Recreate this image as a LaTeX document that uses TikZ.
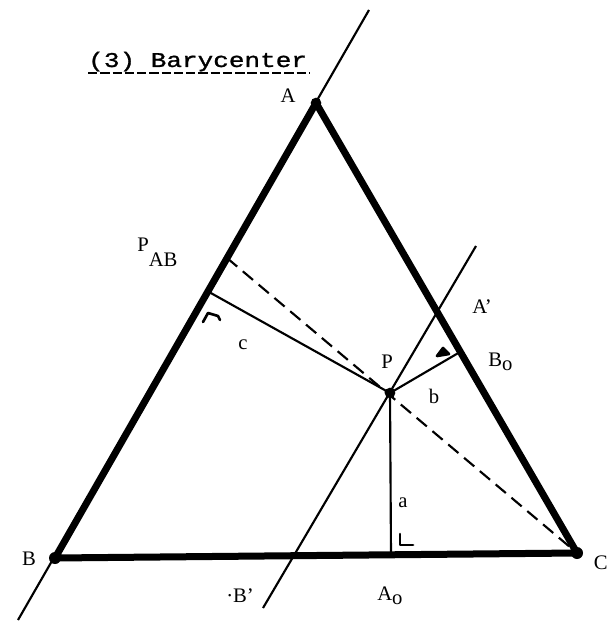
\documentclass[tikz,border=0pt]{standalone}
\usepackage{fontspec}
\setmainfont{Liberation Serif}
\newfontfamily\twfont[FakeStretch=1.24,FakeBold=1.2]{Liberation Mono}
\begin{document}
\begin{tikzpicture}[x=0.75pt,y=-0.75pt,
  thickside/.style={line width=5.25pt, line join=round, line cap=round},
  thinline/.style={line width=1.6pt},
  dashline/.style={line width=1.6pt, dash pattern=on 10pt off 5.5pt},
  rmark/.style={line width=2pt, line join=round, line cap=round},
  lbl/.style={font=\fontsize{15.5pt}{17pt}\selectfont, inner sep=0pt},
  vdot/.style={circle, fill=black, inner sep=0pt, minimum size=8pt}]
\useasboundingbox (0,0) rectangle (608,641);
% points
\coordinate (A) at (316,103);
\coordinate (B) at (55,558);
\coordinate (C) at (577,553);
\coordinate (P) at (390,393);
\coordinate (Atop) at (369,10);
\coordinate (Bbot) at (18,620);
\coordinate (Ltop) at (476,246);
\coordinate (Lbot) at (263,608);
\coordinate (PAB) at (227,258);
\coordinate (Fc) at (209,292);
\coordinate (Fb) at (460,352);
\coordinate (Fa) at (391,555);
% thin construction lines
\draw[thinline] (Atop) -- (Bbot);
\draw[thinline] (Ltop) -- (Lbot);
\draw[thinline] (P) -- (Fc);
\draw[thinline] (P) -- (Fb);
\draw[thinline] (P) -- (Fa);
\draw[dashline] (PAB) -- (C);
% triangle
\draw[thickside] (A) -- (B) -- (C) -- cycle;
\node[vdot] (dA) at (A) {};
\node[vdot, minimum size=9pt] (dB) at (B) {};
\node[vdot, minimum size=9pt] (dC) at (C) {};
\node[vdot] (dP) at (P) {};
% right angle marks
\draw[rmark] (203,322) -- (208,313) -- (218,316) -- (220,320);
\draw[rmark, fill=black] (437,356) -- (443,348) -- (449,354) -- cycle;
\draw[rmark] (400,534) -- (400,545) -- (413,545);
% title
\node[anchor=base west, inner sep=0pt] (title) at (88,67)
  {\twfont\fontsize{15.75pt}{18pt}\selectfont (3) Barycenter};
\draw[line width=1.6pt, dash pattern=on 7pt off 2.2pt] (88,73) -- (309,73);
% labels
\node[lbl] (lA) at (288,96) {A};
\node[lbl] (lB) at (29,559) {B};
\node[lbl, anchor=east] (lC) at (608,563) {C};
\node[lbl, anchor=base west] (lPAB) at (137,252) {P\raisebox{-11.25pt}{AB}};
\node[lbl] (lc) at (243,345) {c};
\node[lbl] (lP) at (387,362) {P};
\node[lbl] (lb) at (434,396) {b};
\node[lbl, anchor=west] (lAp) at (472,307) {A'};
\node[lbl, anchor=west] (lBo) at (488,362) {B\raisebox{-3pt}{o}};
\node[lbl] (la) at (403,503) {a};
\node[lbl, anchor=west] (lBp) at (226,596) {·B'};
\node[lbl, anchor=west] (lAo) at (377,596) {A\raisebox{-3pt}{o}};
\end{tikzpicture}
\end{document}
